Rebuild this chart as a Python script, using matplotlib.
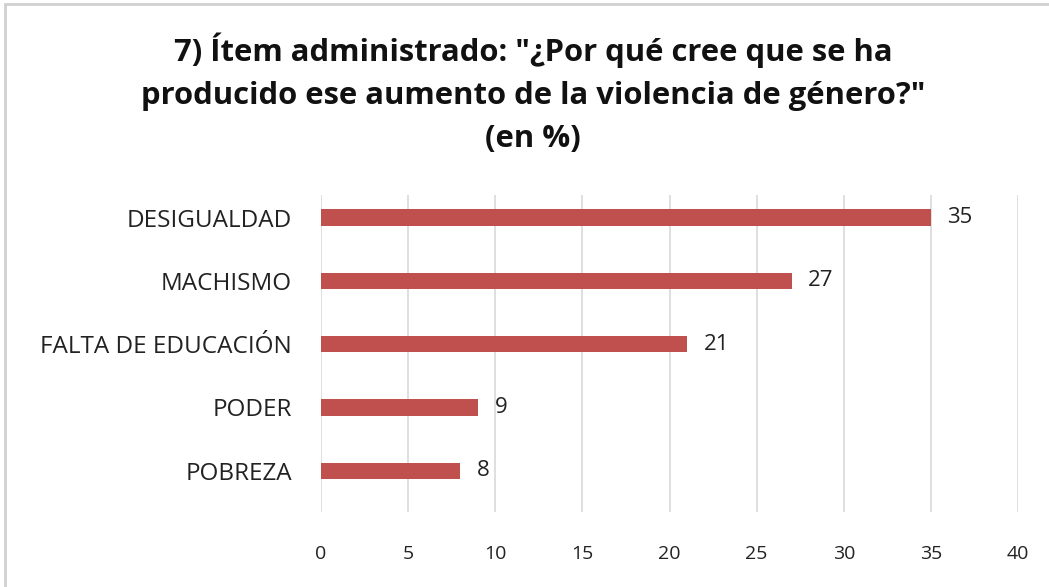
import matplotlib.pyplot as plt
from matplotlib.patches import Rectangle

# Data
categories = ['POBREZA', 'PODER', 'FALTA DE EDUCACIÓN', 'MACHISMO', 'DESIGUALDAD']
values = [8, 9, 21, 27, 35]
x_ticks = [0, 5, 10, 15, 20, 25, 30, 35, 40]

bar_color = '#C0504D'
grid_color = '#D9D9D9'

plt.rcParams['font.family'] = ['Open Sans', 'DejaVu Sans']

fig = plt.figure(figsize=(10.49, 5.87), dpi=100)
ax = fig.add_axes([0.306, 0.128, 0.6645, 0.54])

ypos = range(len(categories))
ax.barh(ypos, values, height=0.26, color=bar_color, zorder=3)

# value labels next to the bars
for y, v in zip(ypos, values):
    ax.text(v + 0.95, y, str(v), va='center', ha='left', fontsize=16, color='#222222')

ax.set_xlim(0, 40)
ax.set_ylim(-0.65, 4.36)
ax.set_xticks(x_ticks)
ax.set_yticks(list(ypos))
ax.set_yticklabels(categories, fontsize=17.5, color='#222222')
ax.tick_params(axis='y', length=0, pad=21)
ax.tick_params(axis='x', length=0, pad=24, labelsize=14, labelcolor='#222222')
ax.xaxis.grid(True, color=grid_color, linewidth=1.2, zorder=0)
for s in ax.spines.values():
    s.set_visible(False)

fig.text(0.508, 0.945, '7) Ítem administrado: "¿Por qué cree que se ha\n'
         'producido ese aumento de la violencia de género?"\n(en %)',
         ha='center', va='top', fontsize=22.3, fontweight='bold',
         linespacing=1.58, color='#111111')

# light outer border of the chart area
fig.patches.append(Rectangle((5 / 1049, -0.1), 1.2, 1 - 4 / 587 + 0.1,
                             transform=fig.transFigure, fill=False,
                             edgecolor='#D0D0D0', linewidth=2))

fig.savefig('out.png', dpi=100)
